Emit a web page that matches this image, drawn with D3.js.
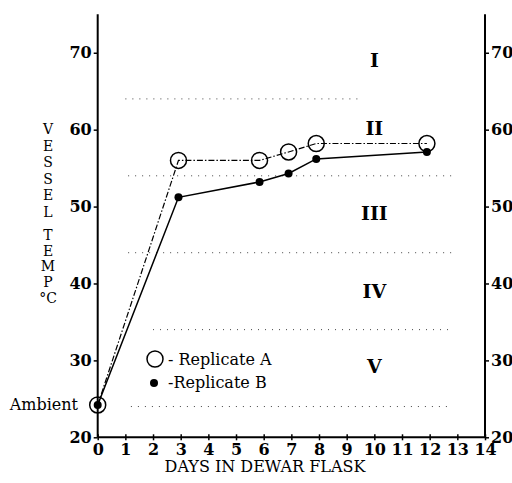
<!DOCTYPE html>
<html><head><meta charset="utf-8">
<script src="https://cdn.jsdelivr.net/npm/d3@7"></script>
<style>
html,body{margin:0;padding:0;background:#fff;}
svg{display:block;font-family:"DejaVu Serif","Liberation Serif",serif;}
</style></head>
<body>
<svg id="chart" width="512" height="483"></svg>
<script>
// ---- data ----
const days = [0, 2.92, 5.85, 6.9, 7.9, 11.9];
const replicateA = [24.2, 56, 56, 57.1, 58.2, 58.2];
const replicateB = [24.2, 51.2, 53.2, 54.3, 56.2, 57.1];
const xTicks = [0,1,2,3,4,5,6,7,8,9,10,11,12,13,14];
const yTicks = [20,30,40,50,60,70];
const zoneLabels = ["I","II","III","IV","V"];
const zoneLabelY = [69, 60.2, 49.2, 39, 29.3];
const zoneLabelX = 10;
const zoneBounds = [64, 54, 44, 34, 24];
const zoneStart = [1.0, 1.1, 1.1, 2.0, 1.2];
const zoneEnd = [9.6, 12.8, 12.8, 12.8, 12.8];
const yTitle1 = ["V","E","S","S","E","L"];
const yTitle2 = ["T","E","M","P"];

// ---- scales ----
const svg = d3.select("#chart");
const x = d3.scaleLinear().domain([0,14]).range([97.7,485]);
const y = d3.scaleLinear().domain([20,75]).range([437.3,14.3]);

// zone dotted lines
svg.append("g").selectAll("line").data(zoneBounds).join("line")
  .attr("x1",(d,i)=>x(zoneStart[i])).attr("x2",(d,i)=>x(zoneEnd[i]))
  .attr("y1",d=>y(d)).attr("y2",d=>y(d))
  .attr("stroke","#444").attr("stroke-width",1)
  .attr("stroke-dasharray","1,6");

// zone labels
svg.append("g").selectAll("text").data(zoneLabels).join("text")
  .attr("x",x(zoneLabelX)).attr("y",(d,i)=>y(zoneLabelY[i]))
  .attr("text-anchor","middle").attr("dominant-baseline","central")
  .attr("font-weight","bold").attr("font-size",19).text(d=>d);

// axes
const left = svg.append("g").attr("transform",`translate(${x(0)},0)`)
  .call(d3.axisLeft(y).tickValues(yTicks).tickSize(4).tickPadding(2).tickFormat(d3.format("d")));
const right = svg.append("g").attr("transform",`translate(${x(14)},0)`)
  .call(d3.axisRight(y).tickValues(yTicks).tickSize(4).tickPadding(2).tickFormat(d3.format("d")));
const bottom = svg.append("g").attr("transform",`translate(0,${y(20)})`)
  .call(d3.axisBottom(x).tickValues(xTicks).tickSize(3).tickPadding(3).tickFormat(d3.format("d")));
[left,right,bottom].forEach(g=>{
  g.select(".domain").attr("stroke","#000").attr("stroke-width",2);
  g.selectAll(".tick line").attr("stroke","#000").attr("stroke-width",1.5);
  g.selectAll(".tick text").attr("font-family","DejaVu Serif").attr("font-weight","bold")
    .attr("font-size",16).attr("fill","#000");
});
left.select(".domain").attr("d",`M0,${y(75)}V${y(20)}`);
right.select(".domain").attr("d",`M0,${y(75)}V${y(20)}`);
bottom.select(".domain").attr("d",`M0,0H${x(14)-x(0)}`).attr("transform",`translate(${x(0)},0)`);
bottom.selectAll(".tick line").attr("y1",-3);

// lines
const lineGen = d3.line().x((d,i)=>x(days[i])).y(d=>y(d));
svg.append("path").datum(replicateA).attr("d",lineGen)
  .attr("fill","none").attr("stroke","#000").attr("stroke-width",1.2)
  .attr("stroke-dasharray","6,2,1.5,2");
svg.append("path").datum(replicateB).attr("d",lineGen)
  .attr("fill","none").attr("stroke","#000").attr("stroke-width",1.5);

// markers
svg.append("g").selectAll("circle").data(replicateA).join("circle")
  .attr("cx",(d,i)=>x(days[i])).attr("cy",d=>y(d)).attr("r",8)
  .attr("fill","none").attr("stroke","#000").attr("stroke-width",1.5);
svg.append("g").selectAll("circle").data(replicateB).join("circle")
  .attr("cx",(d,i)=>x(days[i])).attr("cy",d=>y(d)).attr("r",4)
  .attr("fill","#000");

// ambient label
svg.append("text").attr("x",78).attr("y",y(replicateA[0])).attr("dominant-baseline","central")
  .attr("text-anchor","end").attr("font-size",16).text("Ambient");

// legend
svg.append("circle").attr("cx",155).attr("cy",359).attr("r",8)
  .attr("fill","none").attr("stroke","#000").attr("stroke-width",1.5);
svg.append("text").attr("x",168).attr("y",359).attr("dominant-baseline","central")
  .attr("font-size",16).text("- Replicate A");
svg.append("circle").attr("cx",154).attr("cy",383).attr("r",4).attr("fill","#000");
svg.append("text").attr("x",168).attr("y",382).attr("dominant-baseline","central")
  .attr("font-size",16).text("-Replicate B");

// y title (stacked letters)
const yt = svg.append("g").attr("font-size",14).attr("text-anchor","middle");
yt.selectAll("text.a").data(yTitle1).join("text").attr("class","a")
  .attr("x",48).attr("y",(d,i)=>129+i*16.5).attr("dominant-baseline","central").text(d=>d);
yt.selectAll("text.b").data(yTitle2).join("text").attr("class","b")
  .attr("x",48).attr("y",(d,i)=>235+i*15.5).attr("dominant-baseline","central").text(d=>d);
yt.append("text").attr("x",48).attr("y",298).attr("dominant-baseline","central").text("°C");

// x title
svg.append("text").attr("x",265).attr("y",472).attr("text-anchor","middle")
  .attr("font-size",16).text("DAYS IN DEWAR FLASK");
</script>
</body></html>
